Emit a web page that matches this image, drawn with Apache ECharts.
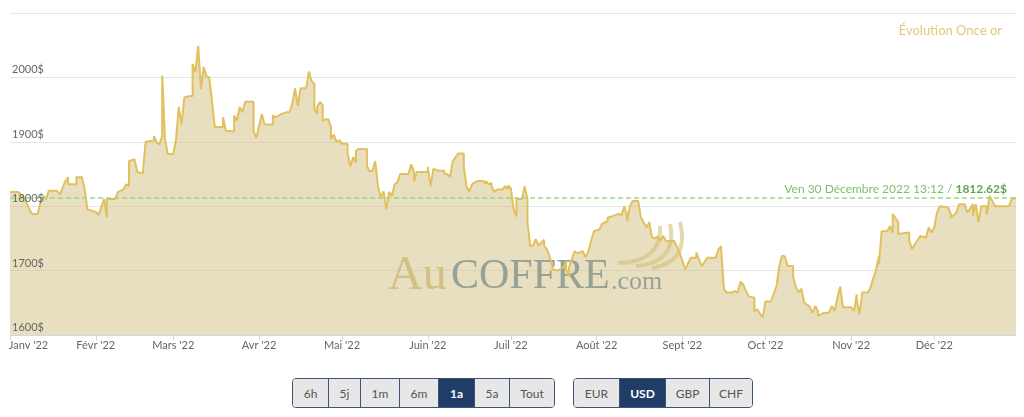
<!DOCTYPE html>
<html><head><meta charset="utf-8">
<script src="https://cdn.jsdelivr.net/npm/echarts@6/dist/echarts.min.js"></script>
<style>
html,body{margin:0;padding:0;background:#fff;}
#chart{position:absolute;left:0;top:0;width:1024px;height:417px;}
.grp{position:absolute;top:378px;height:30px;display:flex;border:1.5px solid #3d5573;border-radius:4px;overflow:hidden;box-sizing:border-box;font-family:Lato,sans-serif;font-size:12px;}
.grp div{display:flex;align-items:center;justify-content:center;background:#e7e7e7;color:#555;border-left:1px solid #3d5573;box-sizing:border-box;}
.grp div:first-child{border-left:none}
.grp div.on{background:#1f3d66;color:#fff;font-weight:bold}
</style></head>
<body>
<div id="chart"></div>
<div class="grp" id="g1" style="left:292px;width:263px"></div>
<div class="grp" id="g2" style="left:573px;width:180px"></div>
<script>
// ---- data ----
const titleText = 'Évolution Once or';
const monthLabels = ["Janv '22","Févr '22","Mars '22","Avr '22","Mai '22","Juin '22","Juil '22","Août '22","Sept '22","Oct '22","Nov '22","Déc '22"];
const yearPrefix = '2022-';
const dates = [
 '01-01','01-04','01-06','01-08','01-09','01-11','01-12','01-13','01-14','01-15','01-18','01-19','01-21','01-22','01-22','01-25','01-25','01-27','01-28','01-29',
 '02-01','02-02','02-03','02-04','02-05','02-05','02-08','02-09','02-11','02-12','02-13','02-13','02-15','02-16','02-18','02-19','02-22','02-22','02-23','02-24','02-25','02-25','02-26','02-27',
 '03-01','03-02','03-03','03-04','03-05','03-07','03-08','03-08','03-09','03-10','03-11','03-12','03-13','03-14','03-15','03-16','03-19','03-19','03-20','03-23','03-23','03-24','03-25','03-26','03-27','03-30','03-30','03-31',
 '04-01','04-02','04-03','04-06','04-06','04-07','04-09','04-11','04-12','04-13','04-14','04-15','04-16','04-18','04-19','04-20','04-21','04-21','04-22','04-22','04-23','04-24','04-24','04-25','04-26','04-27','04-27','04-28','04-29','04-30',
 '05-01','05-03','05-03','05-04','05-05','05-06','05-06','05-07','05-10','05-10','05-11','05-12','05-13','05-14','05-15','05-16','05-17','05-18','05-19','05-20','05-21','05-22','05-25','05-25','05-26','05-27','05-27','05-28',
 '06-01','06-01','06-02','06-03','06-05','06-07','06-07','06-08','06-09','06-10','06-12','06-14','06-14','06-15','06-16','06-17','06-18','06-19','06-21','06-22','06-22','06-23','06-24','06-24','06-25','06-26','06-28','06-29','06-30','06-30',
 '07-01','07-02','07-03','07-03','07-05','07-06','07-07','07-07','07-08','07-09','07-10','07-11','07-13','07-13','07-14','07-15','07-16','07-16','07-18','07-20','07-21','07-21','07-22','07-22','07-24','07-25','07-27','07-28','07-29','07-30','07-31',
 '08-02','08-03','08-05','08-05','08-07','08-09','08-10','08-11','08-12','08-12','08-13','08-14','08-16','08-17','08-19','08-20','08-21','08-22','08-23','08-24','08-25','08-26','08-27','08-29','08-31',
 '09-02','09-04','09-06','09-06','09-07','09-08','09-10','09-13','09-14','09-15','09-15','09-16','09-17','09-19','09-20','09-21','09-22','09-23','09-24','09-25','09-27','09-27','09-28','09-30',
 '10-01','10-03','10-05','10-06','10-07','10-08','10-09','10-11','10-11','10-12','10-13','10-14','10-14','10-15','10-17','10-18','10-19','10-20','10-20','10-22','10-24','10-25','10-26','10-27','10-28','10-29',
 '11-01','11-02','11-03','11-03','11-04','11-05','11-07','11-08','11-10','11-11','11-11','11-12','11-14','11-15','11-16','11-16','11-18','11-18','11-22','11-22','11-23','11-24','11-26','11-28','11-29','11-30',
 '12-01','12-02','12-03','12-06','12-07','12-07','12-09','12-09','12-10','12-12','12-13','12-15','12-15','12-16','12-17','12-18','12-20','12-20','12-21','12-23','12-28','12-29','12-30 13:12'
];
const prices = [
 1822,1822,1814,1795,1788,1788,1806,1816,1811,1824,1824,1818,1839,1845,1834,1834,1845,1845,1826,1795,
 1791,1786,1799,1811,1783,1811,1811,1822,1826,1834,1831,1870,1873,1853,1851,1900,1902,1909,1899,1896,1909,2003,1905,1881,
 1881,1904,1954,1927,1969,1971,1971,2021,2008,2049,1982,2016,2002,2000,1963,1923,1923,1938,1917,1916,1941,1933,1954,1946,1962,1962,1917,1906,
 1924,1943,1927,1927,1941,1938,1943,1946,1946,1959,1983,1956,1983,1983,2009,1994,1990,1951,1943,1954,1962,1957,1932,1935,1935,1923,1904,1911,1900,1902,
 1897,1897,1882,1862,1876,1868,1886,1889,1889,1862,1854,1855,1870,1830,1814,1823,1795,1822,1816,1834,1837,1850,1850,1853,1865,1853,1839,1853,
 1853,1861,1831,1858,1855,1855,1850,1850,1845,1870,1882,1882,1862,1830,1823,1834,1837,1839,1839,1835,1839,1834,1836,1832,1822,1826,1826,1831,1826,1832,
 1828,1795,1784,1811,1811,1831,1811,1775,1738,1739,1749,1739,1748,1739,1733,1722,1707,1702,1700,1705,1714,1702,1691,1705,1730,1727,1730,1721,1730,1746,1761,
 1764,1773,1777,1782,1785,1788,1786,1800,1785,1777,1800,1808,1808,1783,1767,1775,1752,1750,1753,1746,1754,1746,1746,1746,1728,
 1702,1720,1720,1728,1717,1707,1720,1720,1733,1738,1733,1671,1666,1666,1668,1666,1683,1678,1668,1660,1658,1637,1640,1627,
 1652,1652,1676,1707,1723,1722,1707,1707,1691,1674,1666,1672,1674,1650,1644,1634,1645,1637,1630,1634,1635,1645,1637,1658,1675,1643,
 1643,1637,1663,1655,1632,1666,1666,1674,1702,1722,1710,1761,1761,1769,1759,1788,1775,1757,1759,1746,1733,1741,1754,1751,1767,1759,
 1767,1790,1800,1798,1788,1782,1790,1787,1803,1803,1790,1803,1785,1803,1775,1800,1800,1787,1816,1800,1800,1811,1812.62
];
const lastLabel = 'Ven 30 Décembre 2022 13:12';
const lastPrice = 1812.62;
const yTicks = [1600, 1700, 1800, 1900, 2000, 2100];
const rangeButtons = ['6h','5j','1m','6m','1a','5a','Tout'];
const rangeSelected = '1a';
const currencyButtons = ['EUR','USD','GBP','CHF'];
const currencySelected = 'USD';

// ---- buttons ----
const w1 = [35,32,39,39,36,35,0];
const w2 = [45,46,44,0];
function buildGroup(id, labels, sel, widths){
  const g = document.getElementById(id);
  labels.forEach((t,i)=>{
    const d = document.createElement('div');
    d.textContent = t;
    if (widths[i]) d.style.width = widths[i] + 'px'; else d.style.flex = '1';
    if (t === sel) d.className = 'on';
    g.appendChild(d);
  });
}
buildGroup('g1', rangeButtons, rangeSelected, w1);
buildGroup('g2', currencyButtons, currencySelected, w2);

// ---- chart ----
const FONT = 'Lato, "Open Sans", sans-serif';
const data = dates.map((d,i)=>[yearPrefix + d, prices[i]]);
const chart = echarts.init(document.getElementById('chart'));
const wmColorGold = '#d5c083';
const wmColorGray = '#97a296';
const swoosh = 'rgba(212,190,120,0.6)';
// measure first label width so it can start at its tick (left-aligned like the reference)
const cv = document.createElement('canvas').getContext('2d');
cv.font = '11px Lato';
const firstW = Math.round(cv.measureText(monthLabels[0]).width);
chart.setOption({
  animation:false,
  title:{text:titleText, right:17, top:19, textStyle:{color:'#e3c878', fontSize:13, fontWeight:'normal', fontFamily:FONT}},
  grid:{left:10, right:8, top:13, bottom:82, containLabel:false, outerBoundsMode:'none'},
  xAxis:{
    type:'time', min:yearPrefix+'01-01', max:yearPrefix+'12-30 13:12',
    minInterval:28*864e5, maxInterval:31*864e5,
    axisLine:{lineStyle:{color:'#ccd6eb'}},
    axisTick:{show:true, length:5, lineStyle:{color:'#ccd6eb'}},
    axisLabel:{color:'#666', fontSize:11, fontFamily:FONT, margin:5, hideOverlap:false,
      formatter:(v)=>{const m = new Date(v).getMonth(); return m === 0 ? '{f|' + monthLabels[0] + '}' : monthLabels[m];},
      rich:{f:{color:'#666', fontSize:11, fontFamily:FONT, padding:[0,0,0,firstW - 2]}}},
    splitLine:{show:false}
  },
  yAxis:[
    {type:'value', min:yTicks[0], max:yTicks[yTicks.length-1], interval:100,
     axisLabel:{show:false}, axisLine:{show:false}, axisTick:{show:false},
     splitLine:{lineStyle:{color:'#e6e6e6', width:1}}},
    {type:'value', min:yTicks[0], max:yTicks[yTicks.length-1], interval:100, position:'left', z:10,
     axisLabel:{inside:true, margin:2, color:'#666', fontSize:11, fontFamily:FONT, verticalAlign:'bottom',
       padding:[0,0,2,0], showMaxLabel:false, formatter:(v)=>v+'$'},
     axisLine:{show:false}, axisTick:{show:false}, splitLine:{show:false}}
  ],
  series:[
    {type:'line', data:data, symbol:'none', z:1, lineStyle:{width:0}, areaStyle:{color:'rgba(209,191,131,0.5)', opacity:1, origin:'start'}, silent:true},
    {type:'line', data:data, symbol:'none', z:3, lineStyle:{color:'#e2c05e', width:2},
     markLine:{symbol:'none', silent:true, data:[{yAxis:lastPrice}],
       lineStyle:{color:'#96dc82', type:[5,3], width:1.5},
       label:{position:'insideEndTop', distance:[9,3],
         formatter:'{a|' + lastLabel + ' / }{b|' + lastPrice + '$}',
         rich:{a:{color:'#7fbf6c', fontSize:12, fontFamily:FONT}, b:{color:'#5fa84c', fontSize:12, fontWeight:'bold', fontFamily:FONT}}}}}
  ],
  graphic:[
    {type:'text', x:388, y:276, z:2, silent:true, style:{text:'Au', font:'48px "Liberation Serif", serif', fill:wmColorGold, verticalAlign:'middle'}},
    {type:'text', x:451, y:277, z:2, silent:true, style:{text:'COFFRE', font:'42px "Liberation Serif", serif', fill:wmColorGray, verticalAlign:'middle'}},
    {type:'text', x:611, y:282, z:2, silent:true, style:{text:'.com', font:'26px "Liberation Serif", serif', fill:wmColorGray, verticalAlign:'middle'}},
    {type:'bezierCurve', z:2, silent:true, shape:{x1:618, y1:263, cpx1:662, cpy1:262, x2:660, y2:226}, style:{fill:null, stroke:swoosh, lineWidth:4}},
    {type:'bezierCurve', z:2, silent:true, shape:{x1:636, y1:266, cpx1:678, cpy1:262, x2:670, y2:224}, style:{fill:null, stroke:swoosh, lineWidth:4}},
    {type:'bezierCurve', z:2, silent:true, shape:{x1:652, y1:268, cpx1:690, cpy1:262, x2:680, y2:222}, style:{fill:null, stroke:swoosh, lineWidth:4}}
  ]
});
</script>
</body></html>
